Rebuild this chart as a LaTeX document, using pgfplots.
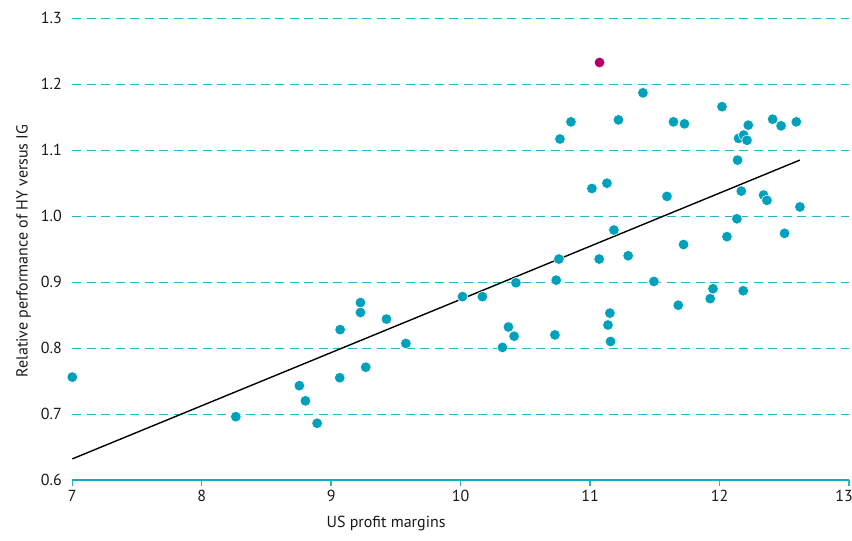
\documentclass[border=0pt]{standalone}
\usepackage{fontspec}
\setmainfont{PT Sans}
\usepackage{pgfplots}
\pgfplotsset{compat=1.18}
\definecolor{dotteal}{RGB}{0,161,186}
\definecolor{gridteal}{RGB}{40,180,202}
\definecolor{axteal}{RGB}{20,170,195}
\definecolor{mag}{RGB}{178,0,98}
\begin{document}
\begin{tikzpicture}
\useasboundingbox (-72.3pt,-61pt) rectangle (779.7pt,480pt);
\begin{axis}[
  at={(0,0)}, anchor=south west,
  scale only axis, width=776.7pt, height=461.7pt,
  xmin=7, xmax=13, ymin=0.6, ymax=1.3,
  xtick={7,8,9,10,11,12},
  extra x ticks={13},
  extra x tick style={xticklabel style={xshift=-5pt}},
  ytick={0.6,0.7,0.8,0.9,1.0,1.1,1.2,1.3},
  axis x line*=bottom, axis y line*=left,
  x axis line style={draw=axteal, line width=2pt, -},
  y axis line style={draw=none},
  ytick style={draw=none},
  xtick style={draw=gridteal, line width=1.5pt},
  tick align=outside, major tick length=6pt,
  ymajorgrids,
  major grid style={gridteal, line width=0.9pt, dash pattern=on 9pt off 5.5pt},
  /pgf/number format/assume math mode=true,
  yticklabel style={/pgf/number format/fixed, /pgf/number format/fixed zerofill, /pgf/number format/precision=1},
  ticklabel style={font=\fontsize{16}{18}\selectfont, text=black!90},
  xticklabel style={yshift=-1pt},
  yticklabel style={xshift=-1pt},
  xlabel={US profit margins},
  ylabel={Relative performance of HY versus IG},
  label style={font=\fontsize{16}{18}\selectfont, text=black!90},
  xlabel style={at={(axis description cs:0.404,0)}, anchor=north, yshift=-33pt},
  ylabel style={at={(axis description cs:0,0.496)}, anchor=south, yshift=38pt},
  clip=false,
]
\addplot[no marks, black, line width=1.4pt] coordinates {(7.0,0.632) (12.62,1.085)};
\addplot[only marks, mark=*, mark size=5.3pt, mark options={fill=dotteal, draw=white, line width=0.5pt}] coordinates {
(7.0,0.756) (8.263,0.696)
(8.754,0.743) (8.801,0.720) (8.891,0.686)
(9.066,0.755) (9.069,0.828) (9.226,0.869) (9.226,0.854) (9.267,0.771)
(9.427,0.844) (9.577,0.807)
(10.014,0.878) (10.168,0.878) (10.323,0.801) (10.369,0.832) (10.413,0.818) (10.427,0.899)
(10.728,0.820) (10.738,0.903) (10.759,0.935) (10.767,1.117) (10.852,1.143)
(11.014,1.042) (11.070,0.935) (11.130,1.050) (11.138,0.835) (11.153,0.853) (11.158,0.810)
(11.184,0.979) (11.219,1.146) (11.294,0.940) (11.408,1.187)
(11.493,0.901) (11.594,1.030) (11.644,1.143) (11.681,0.865) (11.722,0.957) (11.729,1.140)
(11.928,0.875) (11.949,0.890) (12.019,1.166) (12.057,0.969)
(12.134,0.996) (12.139,1.085) (12.147,1.118) (12.168,1.038) (12.183,0.887) (12.186,1.123)
(12.212,1.115) (12.222,1.138)
(12.34,1.032) (12.366,1.024) (12.41,1.147) (12.475,1.137) (12.502,0.974) (12.593,1.143) (12.621,1.014)
};
\addplot[only marks, mark=*, mark size=5.3pt, mark options={fill=mag, draw=white, line width=0.5pt}] coordinates {(11.073,1.233)};
\end{axis}
\end{tikzpicture}
\end{document}
